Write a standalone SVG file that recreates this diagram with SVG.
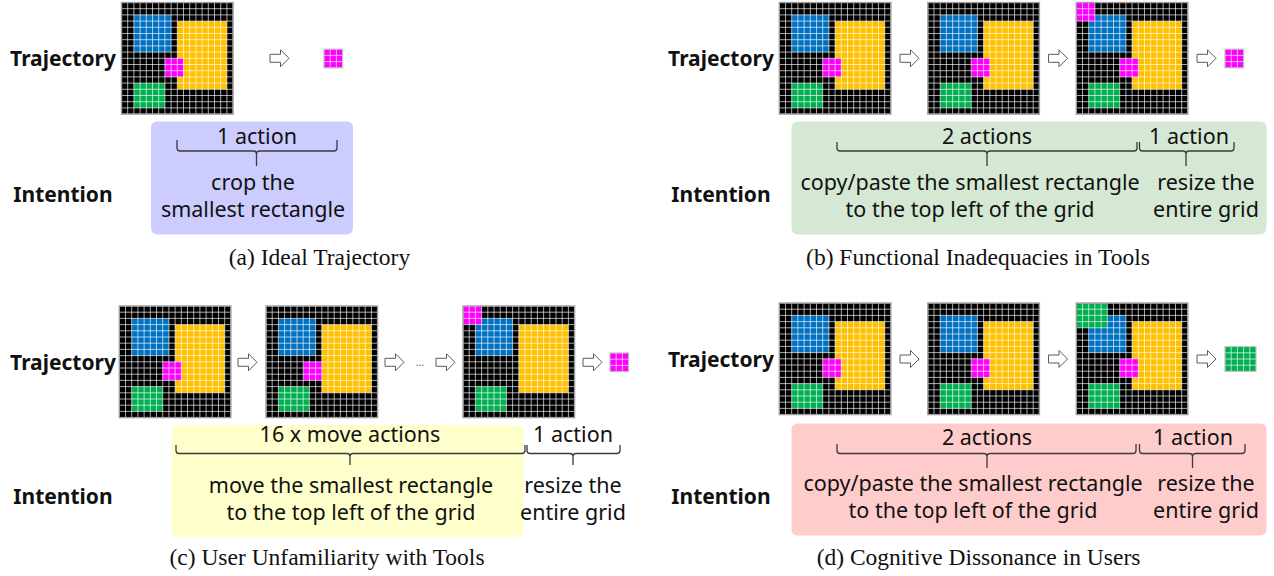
<svg xmlns="http://www.w3.org/2000/svg" xmlns:xlink="http://www.w3.org/1999/xlink" width="1274" height="576" viewBox="0 0 1274 576">
<style>
.t{font-family:"Noto Sans","Open Sans",sans-serif;font-size:21.5px;fill:#111;text-anchor:middle}
.lbl{font-family:"Noto Sans","Open Sans",sans-serif;font-size:21px;font-weight:bold;fill:#111;text-anchor:middle}
.cap{font-family:"Liberation Serif",serif;font-size:23.5px;fill:#111;text-anchor:middle}
.br{fill:none;stroke:#3a3a3a;stroke-width:1.3}
.gl{fill:none;stroke:#fff;stroke-opacity:0.72;stroke-width:0.9}
.bd{fill:none;stroke:#a0a0a0;stroke-width:1.4}
.m{fill:#ff00ff}
.g{fill:#00b050}
.arr{fill:#fff;stroke:#5a5a5a;stroke-width:1}
</style>
<defs>
<g id="layers">
<rect width="111.6" height="111.6" fill="#000"/>
<rect x="12.4" y="12.4" width="37.2" height="37.2" fill="#0070c0"/>
<rect x="55.8" y="18.6" width="49.6" height="68.2" fill="#ffc000"/>
<rect x="12.4" y="80.6" width="31" height="24.8" fill="#00b050"/>
</g>
<g id="lines">
<path class="gl" d="M0 0V111.6M6.2 0V111.6M12.4 0V111.6M18.6 0V111.6M24.8 0V111.6M31 0V111.6M37.2 0V111.6M43.4 0V111.6M49.6 0V111.6M55.8 0V111.6M62 0V111.6M68.2 0V111.6M74.4 0V111.6M80.6 0V111.6M86.8 0V111.6M93 0V111.6M99.2 0V111.6M105.4 0V111.6M111.6 0V111.6M0 0H111.6M0 6.2H111.6M0 12.4H111.6M0 18.6H111.6M0 24.8H111.6M0 31H111.6M0 37.2H111.6M0 43.4H111.6M0 49.6H111.6M0 55.8H111.6M0 62H111.6M0 68.2H111.6M0 74.4H111.6M0 80.6H111.6M0 86.8H111.6M0 93H111.6M0 99.2H111.6M0 105.4H111.6M0 111.6H111.6"/>
<rect class="bd" width="111.6" height="111.6"/>
</g>
<g id="out3">
<rect class="m" width="18.6" height="18.6"/>
<path class="gl" d="M6.2 0V18.6M12.4 0V18.6M0 6.2H18.6M0 12.4H18.6"/>
<rect width="18.6" height="18.6" fill="none" stroke="#c0c0c0" stroke-width="1.2"/>
</g>
<path id="arrow" class="arr" d="M0 -4H10.5V-8.5L19 0L10.5 8.5V4H0Z"/>
</defs>
<rect width="1274" height="576" fill="#fff"/>

<!-- Panel (a) -->
<g id="a-labels">
<text class="lbl" x="63" y="66">Trajectory</text>
<text class="lbl" x="63" y="202">Intention</text>
</g>
<g id="a-grid1" transform="translate(121.5,2.5)">
<use href="#layers"/><rect class="m" x="43.4" y="55.8" width="18.6" height="18.6"/><use href="#lines"/>
</g>
<g id="a-out" transform="translate(324,49.2)"><use href="#out3"/></g>
<g id="a-intent">
<rect x="151" y="121.5" width="202" height="113" rx="6" fill="#ccccff"/>
<text class="t" x="257" y="144">1 action</text>
<text class="t" x="253" y="190">crop the</text>
<text class="t" x="253" y="216.5">smallest rectangle</text>
</g>
<g id="a-caption"><text class="cap" x="319.5" y="265">(a) Ideal Trajectory</text></g>

<!-- Panel (b) -->
<g id="b-labels">
<text class="lbl" x="721" y="66">Trajectory</text>
<text class="lbl" x="721" y="202">Intention</text>
</g>
<g id="b-grid1" transform="translate(779.3,2.5)">
<use href="#layers"/><rect class="m" x="43.4" y="55.8" width="18.6" height="18.6"/><use href="#lines"/>
</g>
<g id="b-grid2" transform="translate(927.8,2.5)">
<use href="#layers"/><rect class="m" x="43.4" y="55.8" width="18.6" height="18.6"/><use href="#lines"/>
</g>
<g id="b-grid3" transform="translate(1076.3,2.5)">
<use href="#layers"/><rect class="m" x="43.4" y="55.8" width="18.6" height="18.6"/><rect class="m" width="18.6" height="18.6"/><use href="#lines"/>
</g>
<g id="b-out" transform="translate(1225,49.2)"><use href="#out3"/></g>
<g id="b-intent">
<rect x="791.5" y="121.5" width="475" height="113" rx="6" fill="#d5e8d4"/>
<text class="t" x="987" y="144">2 actions</text>
<text class="t" x="1189" y="144">1 action</text>
<text class="t" x="970" y="190">copy/paste the smallest rectangle</text>
<text class="t" x="970" y="216.5">to the top left of the grid</text>
<text class="t" x="1206" y="190">resize the</text>
<text class="t" x="1206" y="216.5">entire grid</text>
</g>
<g id="b-caption"><text class="cap" x="978" y="265">(b) Functional Inadequacies in Tools</text></g>

<!-- Panel (c) -->
<g id="c-labels">
<text class="lbl" x="63" y="370">Trajectory</text>
<text class="lbl" x="63" y="504">Intention</text>
</g>
<g id="c-grid1" transform="translate(119.3,306)">
<use href="#layers"/><rect class="m" x="43.4" y="55.8" width="18.6" height="18.6"/><use href="#lines"/>
</g>
<g id="c-grid2" transform="translate(266,306)">
<use href="#layers"/><rect class="m" x="37.2" y="55.8" width="18.6" height="18.6"/><use href="#lines"/>
</g>
<g id="c-dots"><text x="420" y="366" font-family="Noto Sans, sans-serif" font-size="11" fill="#666" text-anchor="middle">…</text></g>
<g id="c-grid3" transform="translate(463,306)">
<use href="#layers"/><rect class="m" width="18.6" height="18.6"/><use href="#lines"/>
</g>
<g id="c-out" transform="translate(610,353)"><use href="#out3"/></g>
<g id="c-intent">
<rect x="171.5" y="425" width="352" height="112" rx="6" fill="#ffffcc"/>
<text class="t" x="350" y="441.5">16 x move actions</text>
<text class="t" x="573" y="441.5">1 action</text>
<text class="t" x="351" y="493">move the smallest rectangle</text>
<text class="t" x="351" y="519.5">to the top left of the grid</text>
<text class="t" x="573" y="493">resize the</text>
<text class="t" x="573" y="519.5">entire grid</text>
</g>
<g id="c-caption"><text class="cap" x="327" y="565">(c) User Unfamiliarity with Tools</text></g>

<!-- Panel (d) -->
<g id="d-labels">
<text class="lbl" x="721" y="367">Trajectory</text>
<text class="lbl" x="721" y="504">Intention</text>
</g>
<g id="d-grid1" transform="translate(779.3,303)">
<use href="#layers"/><rect class="m" x="43.4" y="55.8" width="18.6" height="18.6"/><use href="#lines"/>
</g>
<g id="d-grid2" transform="translate(927.8,303)">
<use href="#layers"/><rect class="m" x="43.4" y="55.8" width="18.6" height="18.6"/><use href="#lines"/>
</g>
<g id="d-grid3" transform="translate(1076.3,303)">
<use href="#layers"/><rect class="m" x="43.4" y="55.8" width="18.6" height="18.6"/><rect class="g" width="31" height="24.8"/><use href="#lines"/>
</g>
<g id="d-out" transform="translate(1225,346.6)">
<rect class="g" width="31" height="24.8"/>
<path class="gl" d="M6.2 0V24.8M12.4 0V24.8M18.6 0V24.8M24.8 0V24.8M0 6.2H31M0 12.4H31M0 18.6H31"/>
<rect width="31" height="24.8" fill="none" stroke="#c0c0c0" stroke-width="1.2"/>
</g>
<g id="d-intent">
<rect x="791.5" y="423.5" width="475" height="112" rx="6" fill="#ffcccc"/>
<text class="t" x="987" y="445">2 actions</text>
<text class="t" x="1193" y="445">1 action</text>
<text class="t" x="973" y="490.8">copy/paste the smallest rectangle</text>
<text class="t" x="973" y="517.5">to the top left of the grid</text>
<text class="t" x="1206" y="490.8">resize the</text>
<text class="t" x="1206" y="517.5">entire grid</text>
</g>
<g id="d-caption"><text class="cap" x="978.5" y="565">(d) Cognitive Dissonance in Users</text></g>

<!-- Connectors: arrows and braces -->
<g id="connectors">
<use href="#arrow" x="270" y="58.3"/>
<use href="#arrow" x="900" y="58.3"/>
<use href="#arrow" x="1048.5" y="58.3"/>
<use href="#arrow" x="1197" y="58.3"/>
<use href="#arrow" x="238" y="362.3"/>
<use href="#arrow" x="385" y="362.3"/>
<use href="#arrow" x="436" y="362.3"/>
<use href="#arrow" x="583" y="362.3"/>
<use href="#arrow" x="900" y="359"/>
<use href="#arrow" x="1048.5" y="359"/>
<use href="#arrow" x="1197" y="359"/>
<path class="br" d="M177 140V148Q177 151 180 151H253.5Q256.5 151 256.5 154V166M256.5 154Q256.5 151 259.5 151H334Q337 151 337 148V140"/>
<path class="br" d="M837 142V148Q837 151 840 151H984Q987 151 987 154V166M987 154Q987 151 990 151H1134Q1137 151 1137 148V142"/>
<path class="br" d="M1139.5 142V148Q1139.5 151 1142.5 151H1183Q1186 151 1186 154V166M1186 154Q1186 151 1189 151H1231Q1234 151 1234 148V142"/>
<path class="br" d="M176 445V450.5Q176 453.5 179 453.5H347Q350 453.5 350 456.5V465M350 456.5Q350 453.5 353 453.5H522Q525 453.5 525 450.5V445"/>
<path class="br" d="M527 445V450.5Q527 453.5 530 453.5H570Q573 453.5 573 456.5V465M573 456.5Q573 453.5 576 453.5H617Q620 453.5 620 450.5V445"/>
<path class="br" d="M837 444V450.5Q837 453.5 840 453.5H984Q987 453.5 987 456.5V468M987 456.5Q987 453.5 990 453.5H1133Q1136 453.5 1136 450.5V444"/>
<path class="br" d="M1139.5 444V450.5Q1139.5 453.5 1142.5 453.5H1189.5Q1192.5 453.5 1192.5 456.5V468M1192.5 456.5Q1192.5 453.5 1195.5 453.5H1242Q1245 453.5 1245 450.5V444"/>
</g>
</svg>
